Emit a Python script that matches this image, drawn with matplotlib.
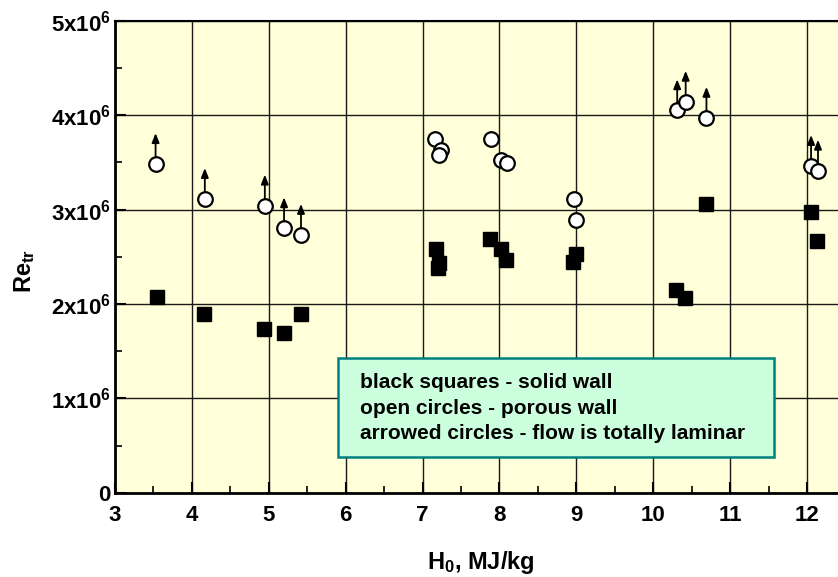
import numpy as np
import matplotlib
matplotlib.use("Agg")
import matplotlib.pyplot as plt
from matplotlib.patches import Rectangle
from matplotlib.ticker import MultipleLocator, FixedLocator

plt.rcParams['font.family'] = ['Liberation Sans', 'DejaVu Sans']
plt.rcParams['font.weight'] = 'bold'
plt.rcParams['mathtext.fontset'] = 'custom'
plt.rcParams['mathtext.rm'] = 'Liberation Sans:bold'
plt.rcParams['mathtext.it'] = 'Liberation Sans:bold'
plt.rcParams['mathtext.bf'] = 'Liberation Sans:bold'

# solid wall (black squares)
solid_h0 = [3.55, 4.16, 4.94, 5.20, 5.42, 7.17, 7.22, 7.20, 7.88, 8.02, 8.09,
            9.00, 8.96, 10.29, 10.41, 10.69, 12.05, 12.13]
solid_re = [2.07, 1.89, 1.74, 1.69, 1.89, 2.58, 2.43, 2.38, 2.69, 2.58, 2.47,
            2.53, 2.44, 2.15, 2.06, 3.06, 2.97, 2.67]

# porous wall (open circles), laminar = flow stayed laminar (arrow up)
porous_h0 = [3.53, 4.17, 4.95, 5.20, 5.42, 7.16, 7.24, 7.21, 7.89, 8.02, 8.10,
             8.97, 8.99, 10.31, 10.42, 10.69, 12.05, 12.14]
porous_re = [3.48, 3.11, 3.04, 2.80, 2.73, 3.75, 3.63, 3.58, 3.75, 3.52, 3.49,
             3.11, 2.89, 4.05, 4.14, 3.97, 3.46, 3.41]
laminar = [1, 1, 1, 1, 1, 0, 0, 0, 0, 0, 0,
           0, 0, 1, 1, 1, 1, 1]

legend_lines = ["black squares - solid wall",
                "open circles - porous wall",
                "arrowed circles - flow is totally laminar"]

x_ticks = [3, 4, 5, 6, 7, 8, 9, 10, 11, 12]
y_ticks = [0, 1e6, 2e6, 3e6, 4e6, 5e6]
y_labels = ["0"] + ["%dx10$^6$" % k for k in range(1, 6)]

fig = plt.figure(figsize=(8.38, 5.77), dpi=100)
ax = fig.add_axes([0.137, 0.146, 0.863, 0.818])
ax.set_facecolor('#FFFFD9')

ax.set_xlim(3, 12.4)
ax.set_ylim(0, 5e6)
ax.xaxis.set_major_locator(FixedLocator(x_ticks))
ax.xaxis.set_minor_locator(MultipleLocator(0.5))
ax.yaxis.set_major_locator(FixedLocator(y_ticks))
ax.yaxis.set_minor_locator(MultipleLocator(0.5e6))
ax.set_yticklabels(y_labels)

ax.grid(True, which='major', color='#1a1a1a', linewidth=1.0)
ax.set_axisbelow(True)

ax.tick_params(which='major', direction='in', length=8, width=1.5,
               labelsize=16)
ax.tick_params(which='minor', direction='in', length=5, width=1.2)
ax.tick_params(axis='x', which='major', pad=9)
ax.tick_params(axis='y', which='major', pad=3)
ax.tick_params(axis='y', which='both', right=False)
ax.tick_params(axis='x', which='both', top=False)

for side in ['left', 'bottom']:
    ax.spines[side].set_linewidth(2.0)
ax.spines['top'].set_linewidth(1.5)
ax.spines['right'].set_visible(False)

sol = np.array(solid_re) * 1e6
por = np.array(porous_re) * 1e6
lam = np.array(laminar, dtype=bool)

ax.plot(solid_h0, sol, 's', color='black', markersize=10, zorder=3,
        clip_on=False)
ax.plot(porous_h0, por, 'o', markerfacecolor='white', markeredgecolor='black',
        markeredgewidth=1.6, markersize=10.5, zorder=4, clip_on=False)

# arrows for the laminar cases
for x, y in zip(np.array(porous_h0)[lam], por[lam]):
    ax.annotate('', xy=(x, y + 0.33e6), xytext=(x, y),
                arrowprops=dict(arrowstyle='-|>,head_length=0.55,head_width=0.22',
                                color='black', lw=1.3, shrinkA=5, shrinkB=0),
                zorder=5)

# legend box
ax.add_patch(Rectangle((0.308, 0.076), 0.604, 0.210, transform=ax.transAxes,
                       facecolor='#CCFFDD', edgecolor='#008080', linewidth=1.8,
                       zorder=6))
for i, line in enumerate(legend_lines):
    ax.text(0.339, 0.233 - i * 0.054, line, transform=ax.transAxes,
            fontsize=15, fontweight='bold', va='center', ha='left', zorder=7)

fig.text(481 / 838, 1 - 562 / 577, "H$_0$, MJ/kg", fontsize=17,
         fontweight='bold', ha='center', va='center')
fig.text(25 / 838, 1 - 271 / 577, "Re$_{tr}$", fontsize=17,
         fontweight='bold', ha='center', va='center', rotation=90)

fig.savefig("out.png", dpi=100)
